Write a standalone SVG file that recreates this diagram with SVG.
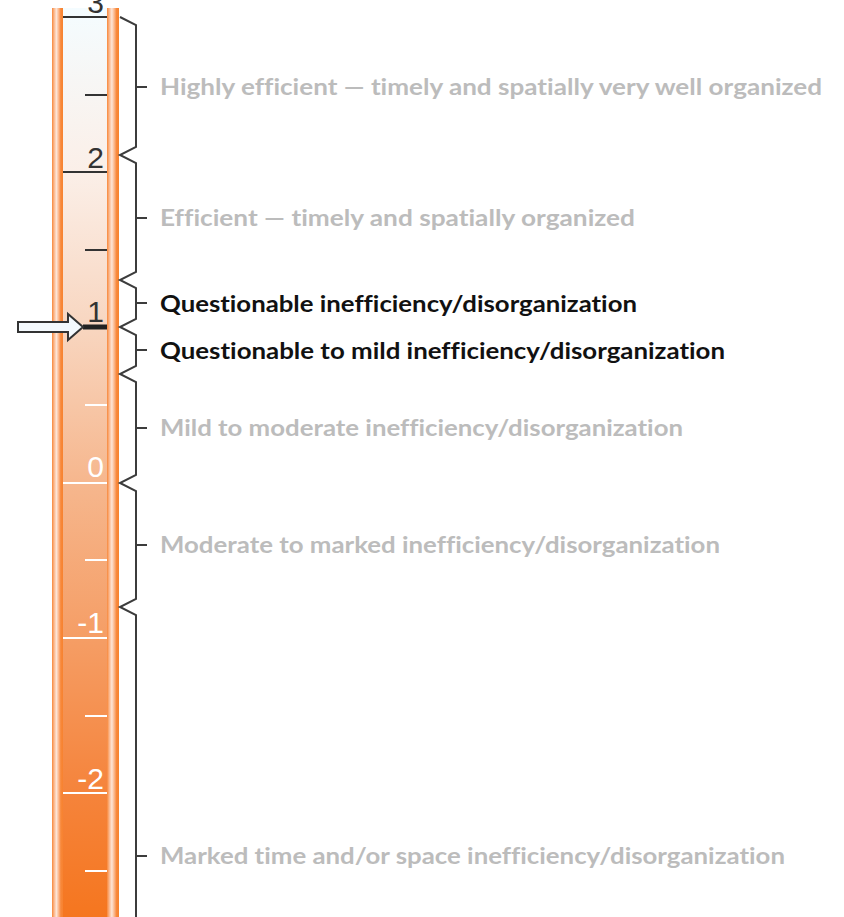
<svg xmlns="http://www.w3.org/2000/svg" width="844" height="917" viewBox="0 0 844 917">
<defs>
<linearGradient id="fill" x1="0" y1="0" x2="0" y2="1" gradientUnits="objectBoundingBox">
<stop offset="0" stop-color="#f4fcff"/>
<stop offset="0.18" stop-color="#fbefe8"/>
<stop offset="0.35" stop-color="#f8d6c0"/>
<stop offset="0.52" stop-color="#f6b78e"/>
<stop offset="0.69" stop-color="#f59e66"/>
<stop offset="0.86" stop-color="#f5843c"/>
<stop offset="1" stop-color="#f5761f"/>
</linearGradient>
<linearGradient id="band" x1="0" y1="0" x2="1" y2="0">
<stop offset="0" stop-color="#f8883a"/>
<stop offset="0.2" stop-color="#fbb88e"/>
<stop offset="0.4" stop-color="#fde6d8"/>
<stop offset="0.6" stop-color="#fbb88e"/>
<stop offset="0.8" stop-color="#f8883a"/>
<stop offset="1" stop-color="#f7822f"/>
</linearGradient>
</defs>
<style>
.maj{stroke-width:2;fill:none}
.dk{stroke:#333333}
.wt{stroke:#ffffff}
.num{font-family:"Liberation Sans",Arial,sans-serif;font-size:30px;text-anchor:end}
.lab{font-family:Lato,"Noto Sans",sans-serif;font-weight:bold;font-size:23px;font-variant-ligatures:none}
.grey{fill:#bcbcbc}
.sel{fill:#111111}
.br{stroke:#3c3c3c;stroke-width:2;fill:none;stroke-linejoin:miter}
</style>
<g id="tube">
<rect x="62" y="8" width="46" height="909" fill="url(#fill)"/>
<rect x="52" y="8" width="11" height="909" fill="url(#band)"/>
<rect x="107" y="8" width="12" height="909" fill="url(#band)"/>
</g>
<g id="ticks">
<line class="maj dk" x1="63" y1="17" x2="107" y2="17"/>
<line class="maj dk" x1="85" y1="95" x2="107" y2="95"/>
<line class="maj dk" x1="63" y1="172" x2="107" y2="172"/>
<line class="maj dk" x1="85" y1="250" x2="107" y2="250"/>
<line x1="83" y1="327" x2="107" y2="327" stroke="#222222" stroke-width="5"/>
<line class="maj wt" x1="85" y1="405" x2="107" y2="405"/>
<line class="maj wt" x1="63" y1="483" x2="107" y2="483"/>
<line class="maj wt" x1="85" y1="560" x2="107" y2="560"/>
<line class="maj wt" x1="63" y1="638" x2="107" y2="638"/>
<line class="maj wt" x1="85" y1="716" x2="107" y2="716"/>
<line class="maj wt" x1="63" y1="793" x2="107" y2="793"/>
<line class="maj wt" x1="85" y1="871" x2="107" y2="871"/>
</g>
<g id="numbers">
<text class="num" x="104" y="13" fill="#333333">3</text>
<text class="num" x="104" y="168" fill="#333333">2</text>
<text class="num" x="104" y="322" fill="#333333">1</text>
<text class="num" x="104" y="477" fill="#ffffff">0</text>
<text class="num" x="104" y="633" fill="#ffffff">-1</text>
<text class="num" x="104" y="789" fill="#ffffff">-2</text>
</g>
<g id="arrow">
<polygon points="18,322 68,322 68,314 83,327 68,340 68,332 18,332" fill="#f4f9fd" stroke="#333333" stroke-width="2" stroke-linejoin="miter"/>
</g>
<g id="connectors">
<path class="br" d="M120,17 L136,25 L136,147 L120,155 L136,163 L136,272 L120,280 L136,288 L136,319 L120,327 L136,335 L136,366 L120,374 L136,382 L136,475 L120,483 L136,491 L136,599 L120,607 L136,615 L136,917"/>
<path class="br" d="M136,87 H147 M136,218 H147 M136,303 H147 M136,350 H147 M136,428 H147 M136,545 H147 M136,856 H147"/>
</g>
<g id="label-highly"><text class="lab grey" x="160" y="95" textLength="662" lengthAdjust="spacingAndGlyphs">Highly efficient — timely and spatially very well organized</text></g>
<g id="label-efficient"><text class="lab grey" x="160" y="226" textLength="475" lengthAdjust="spacingAndGlyphs">Efficient — timely and spatially organized</text></g>
<g id="label-questionable"><text class="lab sel" x="160" y="312" textLength="477" lengthAdjust="spacingAndGlyphs">Questionable inefficiency/disorganization</text></g>
<g id="label-q-mild"><text class="lab sel" x="160" y="359" textLength="565" lengthAdjust="spacingAndGlyphs">Questionable to mild inefficiency/disorganization</text></g>
<g id="label-mild-mod"><text class="lab grey" x="160" y="436" textLength="523" lengthAdjust="spacingAndGlyphs">Mild to moderate inefficiency/disorganization</text></g>
<g id="label-mod-marked"><text class="lab grey" x="160" y="553" textLength="560" lengthAdjust="spacingAndGlyphs">Moderate to marked inefficiency/disorganization</text></g>
<g id="label-marked"><text class="lab grey" x="160" y="864" textLength="625" lengthAdjust="spacingAndGlyphs">Marked time and/or space inefficiency/disorganization</text></g>
</svg>
